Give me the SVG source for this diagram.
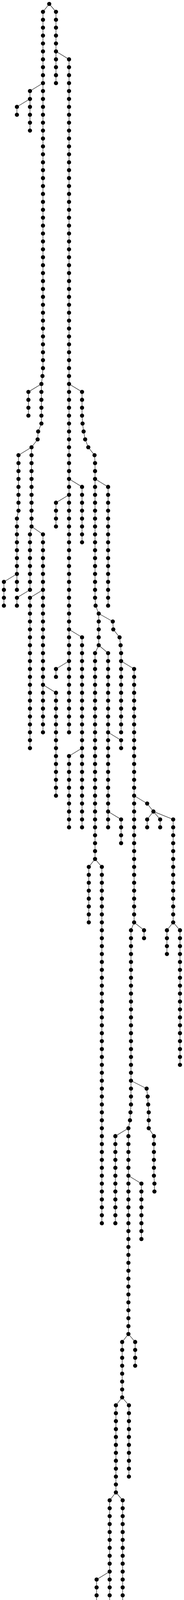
<svg xmlns="http://www.w3.org/2000/svg" width="471" height="5452" viewBox="0 0 471 5452">
<style>
#connectors polyline{fill:none;stroke:#222;stroke-width:1.2}
circle{r:5.3px;fill:#000}
</style>
<rect width="471" height="5452" fill="#fff"/>
<g id="connectors">
<polyline points="126,10 110,30.3 110,942.4 108.7,962.6 106,982.9 106,1084.2 97.7,1104.5 96.3,1124.8 80.7,1145.0 80.7,1347.7 76.7,1368.0 76.7,1509.9 43.3,1530.2 43.3,1550.4"/>
<polyline points="110,212.7 76.7,233.0 76.7,334.3"/>
<polyline points="76.7,253.2 43.3,273.5 43.3,293.8"/>
<polyline points="106,982.9 72.7,1003.2 72.7,1064.0"/>
<polyline points="80.7,1145.0 47.3,1165.3 47.3,1307.2 43.3,1327.5 43.3,1509.9"/>
<polyline points="43.3,1469.3 10,1489.6 10,1550.4"/>
<polyline points="80.7,1347.7 110,1368.0 110,1874.7"/>
<polyline points="110,1509.9 76.7,1530.2 76.7,1915.3"/>
<polyline points="110,1753.1 143.3,1773.4 143.3,2036.9"/>
<polyline points="126,10 143.3,30.3 143.3,212.7"/>
<polyline points="143.3,131.6 176.7,151.9 176.7,1874.7"/>
<polyline points="176.7,1226.1 210,1246.4 210,1388.3"/>
<polyline points="176.7,1266.7 143.3,1286.9 143.3,1347.7"/>
<polyline points="176.7,1611.2 210,1631.5 210,2117.9"/>
<polyline points="210,1915.3 176.7,1935.5 176.7,2117.9"/>
<polyline points="176.7,1692.3 143.3,1712.6 143.3,1732.8"/>
<polyline points="176.7,982.9 210,1003.2 210,1064.0 211.3,1084.2 214,1104.5 218,1124.8 226,1145.0 242,1165.3 243.3,1185.6 243.3,1530.2 244.7,1550.4 252.7,1570.7 252.7,1651.8"/>
<polyline points="243.3,1226.1 276.7,1246.4 276.7,1550.4"/>
<polyline points="252.7,1570.7 288.7,1591.0 290,1611.2 306,1631.5 308.7,1651.8 310,1672.0 310,1874.7"/>
<polyline points="252.7,1651.8 243.3,1672.0 243.3,2199.0"/>
<polyline points="252.7,1651.8 276.7,1672.0 276.7,2117.9"/>
<polyline points="276.7,1874.7 310,1895.0 310,1915.3"/>
<polyline points="276.7,2077.4 310,2097.7 310,2158.5"/>
<polyline points="310,1692.3 343.3,1712.6 343.3,2361.2"/>
<polyline points="343.3,2036.9 376.7,2057.1 392.7,2077.4"/>
<polyline points="392.7,2077.4 376.7,2097.7 376.7,2117.9"/>
<polyline points="392.7,2077.4 410,2097.7 410,2117.9"/>
<polyline points="392.7,2077.4 443.3,2097.7 443.3,2361.2"/>
<polyline points="443.3,2361.2 427.3,2381.4 427.3,2442.2"/>
<polyline points="443.3,2361.2 460.7,2381.4 460.7,2726.0"/>
<polyline points="343.3,2361.2 368.7,2381.4 368.7,2401.7"/>
<polyline points="243.3,2199.0 227.3,2219.3 227.3,2361.2"/>
<polyline points="243.3,2199.0 260.7,2219.3 260.7,3131.4"/>
<polyline points="343.3,2361.2 335.3,2381.4 335.3,2827.4 334,2847.6 332.7,2867.9 328.7,2888.2 328.7,3415.1"/>
<polyline points="335.3,2766.5 375.3,2786.8 378,2807.1 379.3,2827.4 380.7,2847.6 380.7,2888.2 394,2908.4 394,3009.8 395.3,3030.0 395.3,3050.3"/>
<polyline points="328.7,2888.2 295.3,2908.4 295.3,3131.4"/>
<polyline points="328.7,3009.8 362,3030.0 362,3171.9"/>
<polyline points="328.7,3415.1 312.7,3435.4 312.7,3577.3"/>
<polyline points="328.7,3415.1 346,3435.4 346,3496.2"/>
<polyline points="312.7,3577.3 330,3597.6 330,3780.0"/>
<polyline points="312.7,3577.3 296.7,3597.6 296.7,3820.5"/>
<polyline points="296.7,3820.5 280.7,3840.8 280.7,5320.4"/>
<polyline points="280.7,4023.2 247.3,4043.5 247.3,4144.8"/>
<polyline points="296.7,3820.5 314,3840.8 314,4631.3"/>
<polyline points="314,4185.4 347.3,4205.6 347.3,4225.9"/>
<polyline points="314,4266.4 347.3,4286.7 347.3,4347.5"/>
<polyline points="347.3,4307.0 380.7,4327.2 380.7,4509.7"/>
<polyline points="380.7,4469.1 347.3,4489.4 347.3,4996.1"/>
<polyline points="347.3,4996.1 330,5016.4 330,5279.9"/>
<polyline points="347.3,4996.1 363.3,5016.4 363.3,5442.0"/>
</g>
<g id="nodes">
<circle id="root" cx="126" cy="10"/>
<g id="chain-a">
<g transform="translate(110 0)"><circle id="a1" cy="30.3"/><circle id="a2" cy="50.5"/><circle id="a3" cy="70.8"/><circle id="a4" cy="91.1"/><circle id="a5" cy="111.3"/><circle id="a6" cy="131.6"/><circle id="a7" cy="151.9"/><circle id="a8" cy="172.1"/><circle id="a9" cy="192.4"/><circle id="a10" cy="212.7"/><circle id="a11" cy="233.0"/><circle id="a12" cy="253.2"/><circle id="a13" cy="273.5"/><circle id="a14" cy="293.8"/><circle id="a15" cy="314.0"/><circle id="a16" cy="334.3"/><circle id="a17" cy="354.6"/><circle id="a18" cy="374.8"/><circle id="a19" cy="395.1"/><circle id="a20" cy="415.4"/><circle id="a21" cy="435.6"/><circle id="a22" cy="455.9"/><circle id="a23" cy="476.2"/><circle id="a24" cy="496.4"/><circle id="a25" cy="516.7"/><circle id="a26" cy="537.0"/><circle id="a27" cy="557.3"/><circle id="a28" cy="577.5"/><circle id="a29" cy="597.8"/><circle id="a30" cy="618.1"/><circle id="a31" cy="638.3"/><circle id="a32" cy="658.6"/><circle id="a33" cy="678.9"/><circle id="a34" cy="699.1"/><circle id="a35" cy="719.4"/><circle id="a36" cy="739.7"/><circle id="a37" cy="759.9"/><circle id="a38" cy="780.2"/><circle id="a39" cy="800.5"/><circle id="a40" cy="820.7"/><circle id="a41" cy="841.0"/><circle id="a42" cy="861.3"/><circle id="a43" cy="881.6"/><circle id="a44" cy="901.8"/><circle id="a45" cy="922.1"/><circle id="a46" cy="942.4"/></g>
<circle id="a47" cx="108.7" cy="962.6"/>
<g transform="translate(106 0)"><circle id="a48" cy="982.9"/><circle id="a49" cy="1003.2"/><circle id="a50" cy="1023.4"/><circle id="a51" cy="1043.7"/><circle id="a52" cy="1064.0"/><circle id="a53" cy="1084.2"/></g>
<circle id="a54" cx="97.7" cy="1104.5"/>
<circle id="a55" cx="96.3" cy="1124.8"/>
<g transform="translate(80.7 0)"><circle id="a56" cy="1145.0"/><circle id="a57" cy="1165.3"/><circle id="a58" cy="1185.6"/><circle id="a59" cy="1205.9"/><circle id="a60" cy="1226.1"/><circle id="a61" cy="1246.4"/><circle id="a62" cy="1266.7"/><circle id="a63" cy="1286.9"/><circle id="a64" cy="1307.2"/><circle id="a65" cy="1327.5"/><circle id="a66" cy="1347.7"/></g>
<g transform="translate(76.7 0)"><circle id="a67" cy="1368.0"/><circle id="a68" cy="1388.3"/><circle id="a69" cy="1408.5"/><circle id="a70" cy="1428.8"/><circle id="a71" cy="1449.1"/><circle id="a72" cy="1469.3"/><circle id="a73" cy="1489.6"/><circle id="a74" cy="1509.9"/></g>
<g transform="translate(43.3 0)"><circle id="a75" cy="1530.2"/><circle id="a76" cy="1550.4"/></g>
</g>
<g id="chain-b" transform="translate(76.7 0)"><circle id="b11" cy="233.0"/><circle id="b12" cy="253.2"/><circle id="b13" cy="273.5"/><circle id="b14" cy="293.8"/><circle id="b15" cy="314.0"/><circle id="b16" cy="334.3"/></g>
<g id="chain-c" transform="translate(43.3 0)"><circle id="c13" cy="273.5"/><circle id="c14" cy="293.8"/></g>
<g id="chain-d" transform="translate(72.7 0)"><circle id="d49" cy="1003.2"/><circle id="d50" cy="1023.4"/><circle id="d51" cy="1043.7"/><circle id="d52" cy="1064.0"/></g>
<g id="chain-e">
<g transform="translate(47.3 0)"><circle id="e57" cy="1165.3"/><circle id="e58" cy="1185.6"/><circle id="e59" cy="1205.9"/><circle id="e60" cy="1226.1"/><circle id="e61" cy="1246.4"/><circle id="e62" cy="1266.7"/><circle id="e63" cy="1286.9"/><circle id="e64" cy="1307.2"/></g>
<g transform="translate(43.3 0)"><circle id="e65" cy="1327.5"/><circle id="e66" cy="1347.7"/><circle id="e67" cy="1368.0"/><circle id="e68" cy="1388.3"/><circle id="e69" cy="1408.5"/><circle id="e70" cy="1428.8"/><circle id="e71" cy="1449.1"/><circle id="e72" cy="1469.3"/><circle id="e73" cy="1489.6"/><circle id="e74" cy="1509.9"/></g>
</g>
<g id="chain-f" transform="translate(10 0)"><circle id="f73" cy="1489.6"/><circle id="f74" cy="1509.9"/><circle id="f75" cy="1530.2"/><circle id="f76" cy="1550.4"/></g>
<g id="chain-g" transform="translate(110 0)"><circle id="g67" cy="1368.0"/><circle id="g68" cy="1388.3"/><circle id="g69" cy="1408.5"/><circle id="g70" cy="1428.8"/><circle id="g71" cy="1449.1"/><circle id="g72" cy="1469.3"/><circle id="g73" cy="1489.6"/><circle id="g74" cy="1509.9"/><circle id="g75" cy="1530.2"/><circle id="g76" cy="1550.4"/><circle id="g77" cy="1570.7"/><circle id="g78" cy="1591.0"/><circle id="g79" cy="1611.2"/><circle id="g80" cy="1631.5"/><circle id="g81" cy="1651.8"/><circle id="g82" cy="1672.0"/><circle id="g83" cy="1692.3"/><circle id="g84" cy="1712.6"/><circle id="g85" cy="1732.8"/><circle id="g86" cy="1753.1"/><circle id="g87" cy="1773.4"/><circle id="g88" cy="1793.6"/><circle id="g89" cy="1813.9"/><circle id="g90" cy="1834.2"/><circle id="g91" cy="1854.5"/><circle id="g92" cy="1874.7"/></g>
<g id="chain-h" transform="translate(76.7 0)"><circle id="h75" cy="1530.2"/><circle id="h76" cy="1550.4"/><circle id="h77" cy="1570.7"/><circle id="h78" cy="1591.0"/><circle id="h79" cy="1611.2"/><circle id="h80" cy="1631.5"/><circle id="h81" cy="1651.8"/><circle id="h82" cy="1672.0"/><circle id="h83" cy="1692.3"/><circle id="h84" cy="1712.6"/><circle id="h85" cy="1732.8"/><circle id="h86" cy="1753.1"/><circle id="h87" cy="1773.4"/><circle id="h88" cy="1793.6"/><circle id="h89" cy="1813.9"/><circle id="h90" cy="1834.2"/><circle id="h91" cy="1854.5"/><circle id="h92" cy="1874.7"/><circle id="h93" cy="1895.0"/><circle id="h94" cy="1915.3"/></g>
<g id="chain-i" transform="translate(143.3 0)"><circle id="i87" cy="1773.4"/><circle id="i88" cy="1793.6"/><circle id="i89" cy="1813.9"/><circle id="i90" cy="1834.2"/><circle id="i91" cy="1854.5"/><circle id="i92" cy="1874.7"/><circle id="i93" cy="1895.0"/><circle id="i94" cy="1915.3"/><circle id="i95" cy="1935.5"/><circle id="i96" cy="1955.8"/><circle id="i97" cy="1976.1"/><circle id="i98" cy="1996.3"/><circle id="i99" cy="2016.6"/><circle id="i100" cy="2036.9"/></g>
<g id="chain-j" transform="translate(143.3 0)"><circle id="j1" cy="30.3"/><circle id="j2" cy="50.5"/><circle id="j3" cy="70.8"/><circle id="j4" cy="91.1"/><circle id="j5" cy="111.3"/><circle id="j6" cy="131.6"/><circle id="j7" cy="151.9"/><circle id="j8" cy="172.1"/><circle id="j9" cy="192.4"/><circle id="j10" cy="212.7"/></g>
<g id="chain-k" transform="translate(176.7 0)"><circle id="k7" cy="151.9"/><circle id="k8" cy="172.1"/><circle id="k9" cy="192.4"/><circle id="k10" cy="212.7"/><circle id="k11" cy="233.0"/><circle id="k12" cy="253.2"/><circle id="k13" cy="273.5"/><circle id="k14" cy="293.8"/><circle id="k15" cy="314.0"/><circle id="k16" cy="334.3"/><circle id="k17" cy="354.6"/><circle id="k18" cy="374.8"/><circle id="k19" cy="395.1"/><circle id="k20" cy="415.4"/><circle id="k21" cy="435.6"/><circle id="k22" cy="455.9"/><circle id="k23" cy="476.2"/><circle id="k24" cy="496.4"/><circle id="k25" cy="516.7"/><circle id="k26" cy="537.0"/><circle id="k27" cy="557.3"/><circle id="k28" cy="577.5"/><circle id="k29" cy="597.8"/><circle id="k30" cy="618.1"/><circle id="k31" cy="638.3"/><circle id="k32" cy="658.6"/><circle id="k33" cy="678.9"/><circle id="k34" cy="699.1"/><circle id="k35" cy="719.4"/><circle id="k36" cy="739.7"/><circle id="k37" cy="759.9"/><circle id="k38" cy="780.2"/><circle id="k39" cy="800.5"/><circle id="k40" cy="820.7"/><circle id="k41" cy="841.0"/><circle id="k42" cy="861.3"/><circle id="k43" cy="881.6"/><circle id="k44" cy="901.8"/><circle id="k45" cy="922.1"/><circle id="k46" cy="942.4"/><circle id="k47" cy="962.6"/><circle id="k48" cy="982.9"/><circle id="k49" cy="1003.2"/><circle id="k50" cy="1023.4"/><circle id="k51" cy="1043.7"/><circle id="k52" cy="1064.0"/><circle id="k53" cy="1084.2"/><circle id="k54" cy="1104.5"/><circle id="k55" cy="1124.8"/><circle id="k56" cy="1145.0"/><circle id="k57" cy="1165.3"/><circle id="k58" cy="1185.6"/><circle id="k59" cy="1205.9"/><circle id="k60" cy="1226.1"/><circle id="k61" cy="1246.4"/><circle id="k62" cy="1266.7"/><circle id="k63" cy="1286.9"/><circle id="k64" cy="1307.2"/><circle id="k65" cy="1327.5"/><circle id="k66" cy="1347.7"/><circle id="k67" cy="1368.0"/><circle id="k68" cy="1388.3"/><circle id="k69" cy="1408.5"/><circle id="k70" cy="1428.8"/><circle id="k71" cy="1449.1"/><circle id="k72" cy="1469.3"/><circle id="k73" cy="1489.6"/><circle id="k74" cy="1509.9"/><circle id="k75" cy="1530.2"/><circle id="k76" cy="1550.4"/><circle id="k77" cy="1570.7"/><circle id="k78" cy="1591.0"/><circle id="k79" cy="1611.2"/><circle id="k80" cy="1631.5"/><circle id="k81" cy="1651.8"/><circle id="k82" cy="1672.0"/><circle id="k83" cy="1692.3"/><circle id="k84" cy="1712.6"/><circle id="k85" cy="1732.8"/><circle id="k86" cy="1753.1"/><circle id="k87" cy="1773.4"/><circle id="k88" cy="1793.6"/><circle id="k89" cy="1813.9"/><circle id="k90" cy="1834.2"/><circle id="k91" cy="1854.5"/><circle id="k92" cy="1874.7"/></g>
<g id="chain-l" transform="translate(210 0)"><circle id="l61" cy="1246.4"/><circle id="l62" cy="1266.7"/><circle id="l63" cy="1286.9"/><circle id="l64" cy="1307.2"/><circle id="l65" cy="1327.5"/><circle id="l66" cy="1347.7"/><circle id="l67" cy="1368.0"/><circle id="l68" cy="1388.3"/></g>
<g id="chain-m" transform="translate(143.3 0)"><circle id="m63" cy="1286.9"/><circle id="m64" cy="1307.2"/><circle id="m65" cy="1327.5"/><circle id="m66" cy="1347.7"/></g>
<g id="chain-n" transform="translate(210 0)"><circle id="n80" cy="1631.5"/><circle id="n81" cy="1651.8"/><circle id="n82" cy="1672.0"/><circle id="n83" cy="1692.3"/><circle id="n84" cy="1712.6"/><circle id="n85" cy="1732.8"/><circle id="n86" cy="1753.1"/><circle id="n87" cy="1773.4"/><circle id="n88" cy="1793.6"/><circle id="n89" cy="1813.9"/><circle id="n90" cy="1834.2"/><circle id="n91" cy="1854.5"/><circle id="n92" cy="1874.7"/><circle id="n93" cy="1895.0"/><circle id="n94" cy="1915.3"/><circle id="n95" cy="1935.5"/><circle id="n96" cy="1955.8"/><circle id="n97" cy="1976.1"/><circle id="n98" cy="1996.3"/><circle id="n99" cy="2016.6"/><circle id="n100" cy="2036.9"/><circle id="n101" cy="2057.1"/><circle id="n102" cy="2077.4"/><circle id="n103" cy="2097.7"/><circle id="n104" cy="2117.9"/></g>
<g id="chain-o" transform="translate(176.7 0)"><circle id="o95" cy="1935.5"/><circle id="o96" cy="1955.8"/><circle id="o97" cy="1976.1"/><circle id="o98" cy="1996.3"/><circle id="o99" cy="2016.6"/><circle id="o100" cy="2036.9"/><circle id="o101" cy="2057.1"/><circle id="o102" cy="2077.4"/><circle id="o103" cy="2097.7"/><circle id="o104" cy="2117.9"/></g>
<g id="chain-p" transform="translate(143.3 0)"><circle id="p84" cy="1712.6"/><circle id="p85" cy="1732.8"/></g>
<g id="chain-q">
<g transform="translate(210 0)"><circle id="q49" cy="1003.2"/><circle id="q50" cy="1023.4"/><circle id="q51" cy="1043.7"/><circle id="q52" cy="1064.0"/></g>
<circle id="q53" cx="211.3" cy="1084.2"/><circle id="q54" cx="214" cy="1104.5"/><circle id="q55" cx="218" cy="1124.8"/><circle id="q56" cx="226" cy="1145.0"/><circle id="q57" cx="242" cy="1165.3"/>
<g transform="translate(243.3 0)"><circle id="q58" cy="1185.6"/><circle id="q59" cy="1205.9"/><circle id="q60" cy="1226.1"/><circle id="q61" cy="1246.4"/><circle id="q62" cy="1266.7"/><circle id="q63" cy="1286.9"/><circle id="q64" cy="1307.2"/><circle id="q65" cy="1327.5"/><circle id="q66" cy="1347.7"/><circle id="q67" cy="1368.0"/><circle id="q68" cy="1388.3"/><circle id="q69" cy="1408.5"/><circle id="q70" cy="1428.8"/><circle id="q71" cy="1449.1"/><circle id="q72" cy="1469.3"/><circle id="q73" cy="1489.6"/><circle id="q74" cy="1509.9"/><circle id="q75" cy="1530.2"/></g>
<circle id="q76" cx="244.7" cy="1550.4"/>
<g transform="translate(252.7 0)"><circle id="q77" cy="1570.7"/><circle id="q78" cy="1591.0"/><circle id="q79" cy="1611.2"/><circle id="q80" cy="1631.5"/><circle id="q81" cy="1651.8"/></g>
</g>
<g id="chain-r" transform="translate(276.7 0)"><circle id="r61" cy="1246.4"/><circle id="r62" cy="1266.7"/><circle id="r63" cy="1286.9"/><circle id="r64" cy="1307.2"/><circle id="r65" cy="1327.5"/><circle id="r66" cy="1347.7"/><circle id="r67" cy="1368.0"/><circle id="r68" cy="1388.3"/><circle id="r69" cy="1408.5"/><circle id="r70" cy="1428.8"/><circle id="r71" cy="1449.1"/><circle id="r72" cy="1469.3"/><circle id="r73" cy="1489.6"/><circle id="r74" cy="1509.9"/><circle id="r75" cy="1530.2"/><circle id="r76" cy="1550.4"/></g>
<g id="chain-s">
<circle id="s78" cx="288.7" cy="1591.0"/><circle id="s79" cx="290" cy="1611.2"/><circle id="s80" cx="306" cy="1631.5"/><circle id="s81" cx="308.7" cy="1651.8"/>
<g transform="translate(310 0)"><circle id="s82" cy="1672.0"/><circle id="s83" cy="1692.3"/><circle id="s84" cy="1712.6"/><circle id="s85" cy="1732.8"/><circle id="s86" cy="1753.1"/><circle id="s87" cy="1773.4"/><circle id="s88" cy="1793.6"/><circle id="s89" cy="1813.9"/><circle id="s90" cy="1834.2"/><circle id="s91" cy="1854.5"/><circle id="s92" cy="1874.7"/></g>
</g>
<g id="chain-t" transform="translate(243.3 0)"><circle id="t82" cy="1672.0"/><circle id="t83" cy="1692.3"/><circle id="t84" cy="1712.6"/><circle id="t85" cy="1732.8"/><circle id="t86" cy="1753.1"/><circle id="t87" cy="1773.4"/><circle id="t88" cy="1793.6"/><circle id="t89" cy="1813.9"/><circle id="t90" cy="1834.2"/><circle id="t91" cy="1854.5"/><circle id="t92" cy="1874.7"/><circle id="t93" cy="1895.0"/><circle id="t94" cy="1915.3"/><circle id="t95" cy="1935.5"/><circle id="t96" cy="1955.8"/><circle id="t97" cy="1976.1"/><circle id="t98" cy="1996.3"/><circle id="t99" cy="2016.6"/><circle id="t100" cy="2036.9"/><circle id="t101" cy="2057.1"/><circle id="t102" cy="2077.4"/><circle id="t103" cy="2097.7"/><circle id="t104" cy="2117.9"/><circle id="t105" cy="2138.2"/><circle id="t106" cy="2158.5"/><circle id="t107" cy="2178.7"/><circle id="t108" cy="2199.0"/></g>
<g id="chain-u" transform="translate(276.7 0)"><circle id="u82" cy="1672.0"/><circle id="u83" cy="1692.3"/><circle id="u84" cy="1712.6"/><circle id="u85" cy="1732.8"/><circle id="u86" cy="1753.1"/><circle id="u87" cy="1773.4"/><circle id="u88" cy="1793.6"/><circle id="u89" cy="1813.9"/><circle id="u90" cy="1834.2"/><circle id="u91" cy="1854.5"/><circle id="u92" cy="1874.7"/><circle id="u93" cy="1895.0"/><circle id="u94" cy="1915.3"/><circle id="u95" cy="1935.5"/><circle id="u96" cy="1955.8"/><circle id="u97" cy="1976.1"/><circle id="u98" cy="1996.3"/><circle id="u99" cy="2016.6"/><circle id="u100" cy="2036.9"/><circle id="u101" cy="2057.1"/><circle id="u102" cy="2077.4"/><circle id="u103" cy="2097.7"/><circle id="u104" cy="2117.9"/></g>
<g id="chain-v" transform="translate(310 0)"><circle id="v93" cy="1895.0"/><circle id="v94" cy="1915.3"/></g>
<g id="chain-w" transform="translate(310 0)"><circle id="w103" cy="2097.7"/><circle id="w104" cy="2117.9"/><circle id="w105" cy="2138.2"/><circle id="w106" cy="2158.5"/></g>
<g id="chain-x" transform="translate(343.3 0)"><circle id="x84" cy="1712.6"/><circle id="x85" cy="1732.8"/><circle id="x86" cy="1753.1"/><circle id="x87" cy="1773.4"/><circle id="x88" cy="1793.6"/><circle id="x89" cy="1813.9"/><circle id="x90" cy="1834.2"/><circle id="x91" cy="1854.5"/><circle id="x92" cy="1874.7"/><circle id="x93" cy="1895.0"/><circle id="x94" cy="1915.3"/><circle id="x95" cy="1935.5"/><circle id="x96" cy="1955.8"/><circle id="x97" cy="1976.1"/><circle id="x98" cy="1996.3"/><circle id="x99" cy="2016.6"/><circle id="x100" cy="2036.9"/><circle id="x101" cy="2057.1"/><circle id="x102" cy="2077.4"/><circle id="x103" cy="2097.7"/><circle id="x104" cy="2117.9"/><circle id="x105" cy="2138.2"/><circle id="x106" cy="2158.5"/><circle id="x107" cy="2178.7"/><circle id="x108" cy="2199.0"/><circle id="x109" cy="2219.3"/><circle id="x110" cy="2239.6"/><circle id="x111" cy="2259.8"/><circle id="x112" cy="2280.1"/><circle id="x113" cy="2300.4"/><circle id="x114" cy="2320.6"/><circle id="x115" cy="2340.9"/><circle id="x116" cy="2361.2"/></g>
<g id="chain-y"><circle id="y101" cx="376.7" cy="2057.1"/><circle id="y102" cx="392.7" cy="2077.4"/></g>
<g id="chain-z" transform="translate(376.7 0)"><circle id="z103" cy="2097.7"/><circle id="z104" cy="2117.9"/></g>
<g id="chain-aa" transform="translate(410 0)"><circle id="aa103" cy="2097.7"/><circle id="aa104" cy="2117.9"/></g>
<g id="chain-ab" transform="translate(443.3 0)"><circle id="ab103" cy="2097.7"/><circle id="ab104" cy="2117.9"/><circle id="ab105" cy="2138.2"/><circle id="ab106" cy="2158.5"/><circle id="ab107" cy="2178.7"/><circle id="ab108" cy="2199.0"/><circle id="ab109" cy="2219.3"/><circle id="ab110" cy="2239.6"/><circle id="ab111" cy="2259.8"/><circle id="ab112" cy="2280.1"/><circle id="ab113" cy="2300.4"/><circle id="ab114" cy="2320.6"/><circle id="ab115" cy="2340.9"/><circle id="ab116" cy="2361.2"/></g>
<g id="chain-ac" transform="translate(427.3 0)"><circle id="ac117" cy="2381.4"/><circle id="ac118" cy="2401.7"/><circle id="ac119" cy="2422.0"/><circle id="ac120" cy="2442.2"/></g>
<g id="chain-ad" transform="translate(460.7 0)"><circle id="ad117" cy="2381.4"/><circle id="ad118" cy="2401.7"/><circle id="ad119" cy="2422.0"/><circle id="ad120" cy="2442.2"/><circle id="ad121" cy="2462.5"/><circle id="ad122" cy="2482.8"/><circle id="ad123" cy="2503.0"/><circle id="ad124" cy="2523.3"/><circle id="ad125" cy="2543.6"/><circle id="ad126" cy="2563.9"/><circle id="ad127" cy="2584.1"/><circle id="ad128" cy="2604.4"/><circle id="ad129" cy="2624.7"/><circle id="ad130" cy="2644.9"/><circle id="ad131" cy="2665.2"/><circle id="ad132" cy="2685.5"/><circle id="ad133" cy="2705.7"/><circle id="ad134" cy="2726.0"/></g>
<g id="chain-ae" transform="translate(368.7 0)"><circle id="ae117" cy="2381.4"/><circle id="ae118" cy="2401.7"/></g>
<g id="chain-af" transform="translate(227.3 0)"><circle id="af109" cy="2219.3"/><circle id="af110" cy="2239.6"/><circle id="af111" cy="2259.8"/><circle id="af112" cy="2280.1"/><circle id="af113" cy="2300.4"/><circle id="af114" cy="2320.6"/><circle id="af115" cy="2340.9"/><circle id="af116" cy="2361.2"/></g>
<g id="chain-ag" transform="translate(260.7 0)"><circle id="ag109" cy="2219.3"/><circle id="ag110" cy="2239.6"/><circle id="ag111" cy="2259.8"/><circle id="ag112" cy="2280.1"/><circle id="ag113" cy="2300.4"/><circle id="ag114" cy="2320.6"/><circle id="ag115" cy="2340.9"/><circle id="ag116" cy="2361.2"/><circle id="ag117" cy="2381.4"/><circle id="ag118" cy="2401.7"/><circle id="ag119" cy="2422.0"/><circle id="ag120" cy="2442.2"/><circle id="ag121" cy="2462.5"/><circle id="ag122" cy="2482.8"/><circle id="ag123" cy="2503.0"/><circle id="ag124" cy="2523.3"/><circle id="ag125" cy="2543.6"/><circle id="ag126" cy="2563.9"/><circle id="ag127" cy="2584.1"/><circle id="ag128" cy="2604.4"/><circle id="ag129" cy="2624.7"/><circle id="ag130" cy="2644.9"/><circle id="ag131" cy="2665.2"/><circle id="ag132" cy="2685.5"/><circle id="ag133" cy="2705.7"/><circle id="ag134" cy="2726.0"/><circle id="ag135" cy="2746.3"/><circle id="ag136" cy="2766.5"/><circle id="ag137" cy="2786.8"/><circle id="ag138" cy="2807.1"/><circle id="ag139" cy="2827.4"/><circle id="ag140" cy="2847.6"/><circle id="ag141" cy="2867.9"/><circle id="ag142" cy="2888.2"/><circle id="ag143" cy="2908.4"/><circle id="ag144" cy="2928.7"/><circle id="ag145" cy="2949.0"/><circle id="ag146" cy="2969.2"/><circle id="ag147" cy="2989.5"/><circle id="ag148" cy="3009.8"/><circle id="ag149" cy="3030.0"/><circle id="ag150" cy="3050.3"/><circle id="ag151" cy="3070.6"/><circle id="ag152" cy="3090.8"/><circle id="ag153" cy="3111.1"/><circle id="ag154" cy="3131.4"/></g>
<g id="chain-ah">
<g transform="translate(335.3 0)"><circle id="ah117" cy="2381.4"/><circle id="ah118" cy="2401.7"/><circle id="ah119" cy="2422.0"/><circle id="ah120" cy="2442.2"/><circle id="ah121" cy="2462.5"/><circle id="ah122" cy="2482.8"/><circle id="ah123" cy="2503.0"/><circle id="ah124" cy="2523.3"/><circle id="ah125" cy="2543.6"/><circle id="ah126" cy="2563.9"/><circle id="ah127" cy="2584.1"/><circle id="ah128" cy="2604.4"/><circle id="ah129" cy="2624.7"/><circle id="ah130" cy="2644.9"/><circle id="ah131" cy="2665.2"/><circle id="ah132" cy="2685.5"/><circle id="ah133" cy="2705.7"/><circle id="ah134" cy="2726.0"/><circle id="ah135" cy="2746.3"/><circle id="ah136" cy="2766.5"/><circle id="ah137" cy="2786.8"/><circle id="ah138" cy="2807.1"/><circle id="ah139" cy="2827.4"/></g>
<circle id="ah140" cx="334" cy="2847.6"/><circle id="ah141" cx="332.7" cy="2867.9"/>
<g transform="translate(328.7 0)"><circle id="ah142" cy="2888.2"/><circle id="ah143" cy="2908.4"/><circle id="ah144" cy="2928.7"/><circle id="ah145" cy="2949.0"/><circle id="ah146" cy="2969.2"/><circle id="ah147" cy="2989.5"/><circle id="ah148" cy="3009.8"/><circle id="ah149" cy="3030.0"/><circle id="ah150" cy="3050.3"/><circle id="ah151" cy="3070.6"/><circle id="ah152" cy="3090.8"/><circle id="ah153" cy="3111.1"/><circle id="ah154" cy="3131.4"/><circle id="ah155" cy="3151.6"/><circle id="ah156" cy="3171.9"/><circle id="ah157" cy="3192.2"/><circle id="ah158" cy="3212.5"/><circle id="ah159" cy="3232.7"/><circle id="ah160" cy="3253.0"/><circle id="ah161" cy="3273.3"/><circle id="ah162" cy="3293.5"/><circle id="ah163" cy="3313.8"/><circle id="ah164" cy="3334.1"/><circle id="ah165" cy="3354.3"/><circle id="ah166" cy="3374.6"/><circle id="ah167" cy="3394.9"/><circle id="ah168" cy="3415.1"/></g>
</g>
<g id="chain-ai">
<circle id="ai137" cx="375.3" cy="2786.8"/><circle id="ai138" cx="378" cy="2807.1"/><circle id="ai139" cx="379.3" cy="2827.4"/>
<g transform="translate(380.7 0)"><circle id="ai140" cy="2847.6"/><circle id="ai141" cy="2867.9"/><circle id="ai142" cy="2888.2"/></g>
<g transform="translate(394 0)"><circle id="ai143" cy="2908.4"/><circle id="ai144" cy="2928.7"/><circle id="ai145" cy="2949.0"/><circle id="ai146" cy="2969.2"/><circle id="ai147" cy="2989.5"/><circle id="ai148" cy="3009.8"/></g>
<g transform="translate(395.3 0)"><circle id="ai149" cy="3030.0"/><circle id="ai150" cy="3050.3"/></g>
</g>
<g id="chain-aj" transform="translate(295.3 0)"><circle id="aj143" cy="2908.4"/><circle id="aj144" cy="2928.7"/><circle id="aj145" cy="2949.0"/><circle id="aj146" cy="2969.2"/><circle id="aj147" cy="2989.5"/><circle id="aj148" cy="3009.8"/><circle id="aj149" cy="3030.0"/><circle id="aj150" cy="3050.3"/><circle id="aj151" cy="3070.6"/><circle id="aj152" cy="3090.8"/><circle id="aj153" cy="3111.1"/><circle id="aj154" cy="3131.4"/></g>
<g id="chain-ak" transform="translate(362 0)"><circle id="ak149" cy="3030.0"/><circle id="ak150" cy="3050.3"/><circle id="ak151" cy="3070.6"/><circle id="ak152" cy="3090.8"/><circle id="ak153" cy="3111.1"/><circle id="ak154" cy="3131.4"/><circle id="ak155" cy="3151.6"/><circle id="ak156" cy="3171.9"/></g>
<g id="chain-al" transform="translate(312.7 0)"><circle id="al169" cy="3435.4"/><circle id="al170" cy="3455.7"/><circle id="al171" cy="3475.9"/><circle id="al172" cy="3496.2"/><circle id="al173" cy="3516.5"/><circle id="al174" cy="3536.8"/><circle id="al175" cy="3557.0"/><circle id="al176" cy="3577.3"/></g>
<g id="chain-am" transform="translate(346 0)"><circle id="am169" cy="3435.4"/><circle id="am170" cy="3455.7"/><circle id="am171" cy="3475.9"/><circle id="am172" cy="3496.2"/></g>
<g id="chain-an" transform="translate(330 0)"><circle id="an177" cy="3597.6"/><circle id="an178" cy="3617.8"/><circle id="an179" cy="3638.1"/><circle id="an180" cy="3658.4"/><circle id="an181" cy="3678.6"/><circle id="an182" cy="3698.9"/><circle id="an183" cy="3719.2"/><circle id="an184" cy="3739.4"/><circle id="an185" cy="3759.7"/><circle id="an186" cy="3780.0"/></g>
<g id="chain-ao" transform="translate(296.7 0)"><circle id="ao177" cy="3597.6"/><circle id="ao178" cy="3617.8"/><circle id="ao179" cy="3638.1"/><circle id="ao180" cy="3658.4"/><circle id="ao181" cy="3678.6"/><circle id="ao182" cy="3698.9"/><circle id="ao183" cy="3719.2"/><circle id="ao184" cy="3739.4"/><circle id="ao185" cy="3759.7"/><circle id="ao186" cy="3780.0"/><circle id="ao187" cy="3800.2"/><circle id="ao188" cy="3820.5"/></g>
<g id="chain-ap" transform="translate(280.7 0)"><circle id="ap189" cy="3840.8"/><circle id="ap190" cy="3861.1"/><circle id="ap191" cy="3881.3"/><circle id="ap192" cy="3901.6"/><circle id="ap193" cy="3921.9"/><circle id="ap194" cy="3942.1"/><circle id="ap195" cy="3962.4"/><circle id="ap196" cy="3982.7"/><circle id="ap197" cy="4002.9"/><circle id="ap198" cy="4023.2"/><circle id="ap199" cy="4043.5"/><circle id="ap200" cy="4063.7"/><circle id="ap201" cy="4084.0"/><circle id="ap202" cy="4104.3"/><circle id="ap203" cy="4124.5"/><circle id="ap204" cy="4144.8"/><circle id="ap205" cy="4165.1"/><circle id="ap206" cy="4185.4"/><circle id="ap207" cy="4205.6"/><circle id="ap208" cy="4225.9"/><circle id="ap209" cy="4246.2"/><circle id="ap210" cy="4266.4"/><circle id="ap211" cy="4286.7"/><circle id="ap212" cy="4307.0"/><circle id="ap213" cy="4327.2"/><circle id="ap214" cy="4347.5"/><circle id="ap215" cy="4367.8"/><circle id="ap216" cy="4388.0"/><circle id="ap217" cy="4408.3"/><circle id="ap218" cy="4428.6"/><circle id="ap219" cy="4448.8"/><circle id="ap220" cy="4469.1"/><circle id="ap221" cy="4489.4"/><circle id="ap222" cy="4509.7"/><circle id="ap223" cy="4529.9"/><circle id="ap224" cy="4550.2"/><circle id="ap225" cy="4570.5"/><circle id="ap226" cy="4590.7"/><circle id="ap227" cy="4611.0"/><circle id="ap228" cy="4631.3"/><circle id="ap229" cy="4651.5"/><circle id="ap230" cy="4671.8"/><circle id="ap231" cy="4692.1"/><circle id="ap232" cy="4712.3"/><circle id="ap233" cy="4732.6"/><circle id="ap234" cy="4752.9"/><circle id="ap235" cy="4773.1"/><circle id="ap236" cy="4793.4"/><circle id="ap237" cy="4813.7"/><circle id="ap238" cy="4833.9"/><circle id="ap239" cy="4854.2"/><circle id="ap240" cy="4874.5"/><circle id="ap241" cy="4894.8"/><circle id="ap242" cy="4915.0"/><circle id="ap243" cy="4935.3"/><circle id="ap244" cy="4955.6"/><circle id="ap245" cy="4975.8"/><circle id="ap246" cy="4996.1"/><circle id="ap247" cy="5016.4"/><circle id="ap248" cy="5036.6"/><circle id="ap249" cy="5056.9"/><circle id="ap250" cy="5077.2"/><circle id="ap251" cy="5097.4"/><circle id="ap252" cy="5117.7"/><circle id="ap253" cy="5138.0"/><circle id="ap254" cy="5158.3"/><circle id="ap255" cy="5178.5"/><circle id="ap256" cy="5198.8"/><circle id="ap257" cy="5219.1"/><circle id="ap258" cy="5239.3"/><circle id="ap259" cy="5259.6"/><circle id="ap260" cy="5279.9"/><circle id="ap261" cy="5300.1"/><circle id="ap262" cy="5320.4"/></g>
<g id="chain-aq" transform="translate(247.3 0)"><circle id="aq199" cy="4043.5"/><circle id="aq200" cy="4063.7"/><circle id="aq201" cy="4084.0"/><circle id="aq202" cy="4104.3"/><circle id="aq203" cy="4124.5"/><circle id="aq204" cy="4144.8"/></g>
<g id="chain-ar" transform="translate(314 0)"><circle id="ar189" cy="3840.8"/><circle id="ar190" cy="3861.1"/><circle id="ar191" cy="3881.3"/><circle id="ar192" cy="3901.6"/><circle id="ar193" cy="3921.9"/><circle id="ar194" cy="3942.1"/><circle id="ar195" cy="3962.4"/><circle id="ar196" cy="3982.7"/><circle id="ar197" cy="4002.9"/><circle id="ar198" cy="4023.2"/><circle id="ar199" cy="4043.5"/><circle id="ar200" cy="4063.7"/><circle id="ar201" cy="4084.0"/><circle id="ar202" cy="4104.3"/><circle id="ar203" cy="4124.5"/><circle id="ar204" cy="4144.8"/><circle id="ar205" cy="4165.1"/><circle id="ar206" cy="4185.4"/><circle id="ar207" cy="4205.6"/><circle id="ar208" cy="4225.9"/><circle id="ar209" cy="4246.2"/><circle id="ar210" cy="4266.4"/><circle id="ar211" cy="4286.7"/><circle id="ar212" cy="4307.0"/><circle id="ar213" cy="4327.2"/><circle id="ar214" cy="4347.5"/><circle id="ar215" cy="4367.8"/><circle id="ar216" cy="4388.0"/><circle id="ar217" cy="4408.3"/><circle id="ar218" cy="4428.6"/><circle id="ar219" cy="4448.8"/><circle id="ar220" cy="4469.1"/><circle id="ar221" cy="4489.4"/><circle id="ar222" cy="4509.7"/><circle id="ar223" cy="4529.9"/><circle id="ar224" cy="4550.2"/><circle id="ar225" cy="4570.5"/><circle id="ar226" cy="4590.7"/><circle id="ar227" cy="4611.0"/><circle id="ar228" cy="4631.3"/></g>
<g id="chain-as" transform="translate(347.3 0)"><circle id="as207" cy="4205.6"/><circle id="as208" cy="4225.9"/></g>
<g id="chain-at" transform="translate(347.3 0)"><circle id="at211" cy="4286.7"/><circle id="at212" cy="4307.0"/><circle id="at213" cy="4327.2"/><circle id="at214" cy="4347.5"/></g>
<g id="chain-au" transform="translate(380.7 0)"><circle id="au213" cy="4327.2"/><circle id="au214" cy="4347.5"/><circle id="au215" cy="4367.8"/><circle id="au216" cy="4388.0"/><circle id="au217" cy="4408.3"/><circle id="au218" cy="4428.6"/><circle id="au219" cy="4448.8"/><circle id="au220" cy="4469.1"/><circle id="au221" cy="4489.4"/><circle id="au222" cy="4509.7"/></g>
<g id="chain-av" transform="translate(347.3 0)"><circle id="av221" cy="4489.4"/><circle id="av222" cy="4509.7"/><circle id="av223" cy="4529.9"/><circle id="av224" cy="4550.2"/><circle id="av225" cy="4570.5"/><circle id="av226" cy="4590.7"/><circle id="av227" cy="4611.0"/><circle id="av228" cy="4631.3"/><circle id="av229" cy="4651.5"/><circle id="av230" cy="4671.8"/><circle id="av231" cy="4692.1"/><circle id="av232" cy="4712.3"/><circle id="av233" cy="4732.6"/><circle id="av234" cy="4752.9"/><circle id="av235" cy="4773.1"/><circle id="av236" cy="4793.4"/><circle id="av237" cy="4813.7"/><circle id="av238" cy="4833.9"/><circle id="av239" cy="4854.2"/><circle id="av240" cy="4874.5"/><circle id="av241" cy="4894.8"/><circle id="av242" cy="4915.0"/><circle id="av243" cy="4935.3"/><circle id="av244" cy="4955.6"/><circle id="av245" cy="4975.8"/><circle id="av246" cy="4996.1"/></g>
<g id="chain-aw" transform="translate(330 0)"><circle id="aw247" cy="5016.4"/><circle id="aw248" cy="5036.6"/><circle id="aw249" cy="5056.9"/><circle id="aw250" cy="5077.2"/><circle id="aw251" cy="5097.4"/><circle id="aw252" cy="5117.7"/><circle id="aw253" cy="5138.0"/><circle id="aw254" cy="5158.3"/><circle id="aw255" cy="5178.5"/><circle id="aw256" cy="5198.8"/><circle id="aw257" cy="5219.1"/><circle id="aw258" cy="5239.3"/><circle id="aw259" cy="5259.6"/><circle id="aw260" cy="5279.9"/></g>
<g id="chain-ax" transform="translate(363.3 0)"><circle id="ax247" cy="5016.4"/><circle id="ax248" cy="5036.6"/><circle id="ax249" cy="5056.9"/><circle id="ax250" cy="5077.2"/><circle id="ax251" cy="5097.4"/><circle id="ax252" cy="5117.7"/><circle id="ax253" cy="5138.0"/><circle id="ax254" cy="5158.3"/><circle id="ax255" cy="5178.5"/><circle id="ax256" cy="5198.8"/><circle id="ax257" cy="5219.1"/><circle id="ax258" cy="5239.3"/><circle id="ax259" cy="5259.6"/><circle id="ax260" cy="5279.9"/><circle id="ax261" cy="5300.1"/><circle id="ax262" cy="5320.4"/><circle id="ax263" cy="5340.7"/><circle id="ax264" cy="5360.9"/><circle id="ax265" cy="5381.2"/><circle id="ax266" cy="5401.5"/><circle id="ax267" cy="5421.7"/><circle id="ax268" cy="5442.0"/></g>
</g>
</svg>
